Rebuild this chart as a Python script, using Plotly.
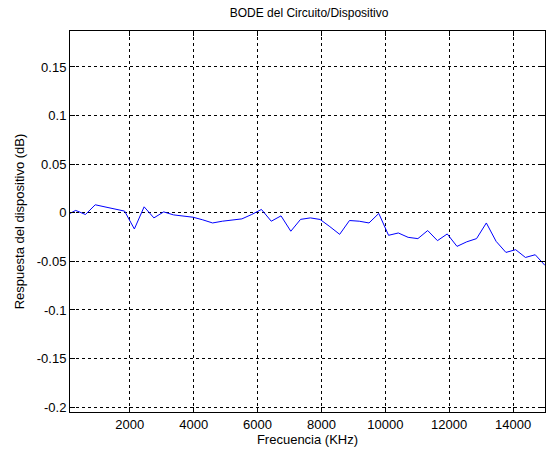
import plotly.graph_objects as go

freq_khz = [128, 306, 612, 918, 1224, 1531, 1837, 2143, 2449, 2755, 3061, 3367,
            3673, 3980, 4286, 4592, 4898, 5204, 5510, 5816, 6122, 6429, 6735,
            7041, 7347, 7653, 7959, 8265, 8571, 8878, 9184, 9490, 9796, 10102,
            10408, 10714, 11020, 11327, 11633, 11939, 12245, 12551, 12857,
            13163, 13469, 13776, 14082, 14388, 14694, 15000]
resp_db = [-0.0007, 0.0024, -0.0018, 0.0082, 0.0060, 0.0038, 0.0017, -0.0167,
           0.0061, -0.0053, 0.0009, -0.0022, -0.0035, -0.0046, -0.0073,
           -0.0105, -0.0087, -0.0076, -0.0063, -0.0018, 0.0034, -0.0087,
           -0.0032, -0.0190, -0.0068, -0.0053, -0.0069, -0.0143, -0.0222,
           -0.0080, -0.0087, -0.0105, -0.0007, -0.0232, -0.0208, -0.0253,
           -0.0266, -0.0183, -0.0287, -0.0218, -0.0346, -0.0299, -0.0266,
           -0.0105, -0.0294, -0.0408, -0.0380, -0.0460, -0.0432, -0.0542]

x_ticks = [2000, 4000, 6000, 8000, 10000, 12000, 14000]
y_ticks = [-0.2, -0.15, -0.1, -0.05, 0, 0.05, 0.1, 0.15]
y_labels = ["-0.2", "-0.15", "-0.1", "-0.05", "0", "0.05", "0.1", "0.15"]

font = "Liberation Sans, Arial, sans-serif"

fig = go.Figure(go.Scatter(x=freq_khz, y=resp_db, mode="lines",
                           line=dict(color="#0000ff", width=1)))

axis_common = dict(showline=True, linecolor="#000000", linewidth=1, mirror="ticks",
                   ticks="inside", ticklen=5, tickcolor="#000000",
                   showgrid=True, gridcolor="#000000", gridwidth=1, griddash="3px,3px",
                   zeroline=False, tickfont=dict(family=font, size=13, color="#000000"))

fig.update_xaxes(range=[128, 15000], tickvals=x_ticks, ticktext=[str(v) for v in x_ticks],
                 title=dict(text="Frecuencia (KHz)", font=dict(family=font, size=13, color="#000000"),
                            standoff=4),
                 **axis_common)
fig.update_yaxes(range=[-0.205, 0.187], tickvals=y_ticks, ticktext=y_labels,
                 title=dict(text="Respuesta del dispositivo (dB)",
                            font=dict(family=font, size=13, color="#000000"), standoff=9),
                 **axis_common)

fig.update_layout(width=547, height=454, paper_bgcolor="#ffffff", plot_bgcolor="#ffffff",
                  margin=dict(l=70, r=2, t=31, b=42), showlegend=False,
                  title=dict(text="BODE del Circuito/Dispositivo", x=0.565, xanchor="center",
                             y=0.972, yanchor="middle",
                             font=dict(family=font, size=12, color="#000000")))

fig.write_html("out.html")
